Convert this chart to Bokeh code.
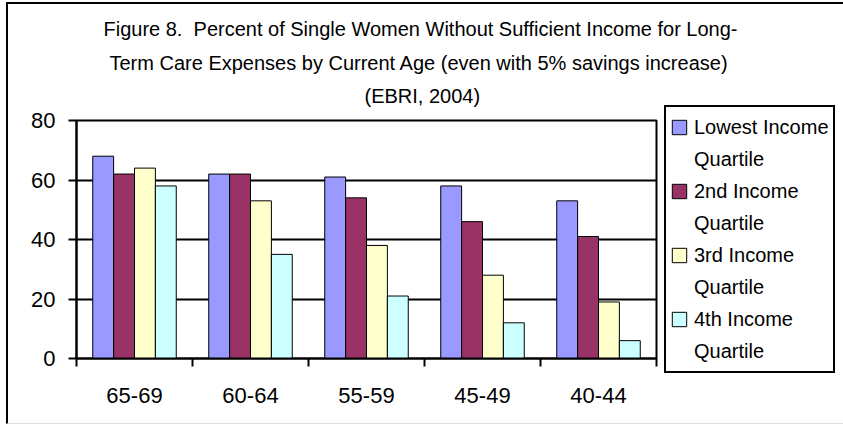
from bokeh.plotting import figure
from bokeh.models import Range1d, FixedTicker, Legend, LegendItem, ColumnDataSource, Title
from bokeh.embed import file_html
from bokeh.resources import INLINE

# ---- data ----
ages = ["65-69", "60-64", "55-59", "45-49", "40-44"]
series_names = ["Lowest Income", "2nd Income", "3rd Income", "4th Income"]
lowest = [68, 62, 61, 58, 53]
second = [62, 62, 54, 46, 41]
third = [64, 53, 38, 28, 19]
fourth = [58, 35, 21, 12, 6]
colors = ["#9999FF", "#993366", "#FFFFCC", "#CCFFFF"]
y_ticks = [0, 20, 40, 60, 80]
title_lines = [
    "Figure 8.\u00a0 Percent of Single Women Without Sufficient Income for Long-",
    "Term Care Expenses by Current Age (even with 5% savings increase)",
    "(EBRI, 2004)",
]

FONT = "'Liberation Sans Narrow', 'Arial Narrow', 'Liberation Sans', sans-serif"

p = figure(frame_width=580, frame_height=238, output_backend="svg", toolbar_location=None,
           x_range=Range1d(0, len(ages)), y_range=Range1d(0, 80),
           min_border_left=68, min_border_right=0, min_border_top=116, min_border_bottom=65)
p.title = None
p.styles = {"margin-left": "6px", "margin-top": "2px",
            "border-left": "2px solid black", "border-top": "2px solid black",
            "border-bottom": "1px solid #dddddd"}

# title lines (inner-most added first); offsets centre each line near x=420
title_specs = [  # (line index, offset, vertical_align, standoff)
    (2, 288, "top", 23),
    (1, 33, "bottom", 0),
    (0, 27, "bottom", 19),
]
for idx, off, valign, so in title_specs:
    p.add_layout(Title(text=title_lines[idx], align="left", offset=off,
                       vertical_align=valign, standoff=so,
                       text_font=FONT, text_font_size="20px",
                       text_font_style="normal", text_color="black"), "above")

width = 0.18
offsets = [-0.27, -0.09, 0.09, 0.27]
all_series = [lowest, second, third, fourth]
items = []
for name, vals, col, off in zip(series_names, all_series, colors, offsets):
    src = ColumnDataSource(dict(x=[i + 0.5 + off for i in range(len(ages))], top=vals))
    r = p.vbar(x="x", top="top", width=width, source=src, fill_color=col,
               line_color="black", line_width=1)
    dummy = p.vbar(x=[], top=[], width=width, fill_alpha=0, line_alpha=0)
    items.append(LegendItem(label=name, renderers=[r]))
    items.append(LegendItem(label="Quartile", renderers=[dummy]))

legend = Legend(items=items, location="center_left")
legend.label_text_font = FONT
legend.label_text_font_size = "20px"
legend.label_text_color = "black"
legend.label_height = 32
legend.glyph_height = 18
legend.glyph_width = 18
legend.spacing = 0
legend.padding = 4
legend.margin = 8
legend.label_standoff = 6
legend.border_line_color = "black"
legend.border_line_alpha = 1
legend.border_line_width = 2
legend.background_fill_color = "white"
legend.background_fill_alpha = 1
p.add_layout(legend, "right")

# axes
xa = p.xaxis[0]
xa.ticker = FixedTicker(ticks=[i + 0.5 for i in range(len(ages))],
                        minor_ticks=list(range(len(ages) + 1)))
xa.major_label_overrides = {i + 0.5: a for i, a in enumerate(ages)}
xa.major_tick_out = 0
xa.major_tick_in = 0
xa.minor_tick_out = 8
xa.minor_tick_in = 0
xa.minor_tick_line_width = 2
xa.minor_tick_line_color = "black"
xa.axis_line_width = 2
xa.axis_line_color = "black"
xa.major_label_text_font = FONT
xa.major_label_text_font_size = "22px"
xa.major_label_text_color = "black"
xa.major_label_standoff = 21

ya = p.yaxis[0]
ya.ticker = FixedTicker(ticks=y_ticks)
ya.major_tick_out = 8
ya.major_tick_in = 0
ya.major_tick_line_width = 2
ya.minor_tick_line_color = None
ya.axis_line_width = 2
ya.axis_line_color = "black"
ya.major_label_text_font = FONT
ya.major_label_text_font_size = "22px"
ya.major_label_text_color = "black"
ya.major_label_standoff = 13

p.xgrid.grid_line_color = None
p.ygrid.grid_line_color = "black"
p.ygrid.grid_line_width = 2
p.ygrid.grid_line_alpha = 1
p.outline_line_color = "black"
p.outline_line_width = 2
p.outline_line_alpha = 1
p.background_fill_color = "white"
p.border_fill_color = "white"

open("out.html", "w").write(file_html(p, INLINE))
